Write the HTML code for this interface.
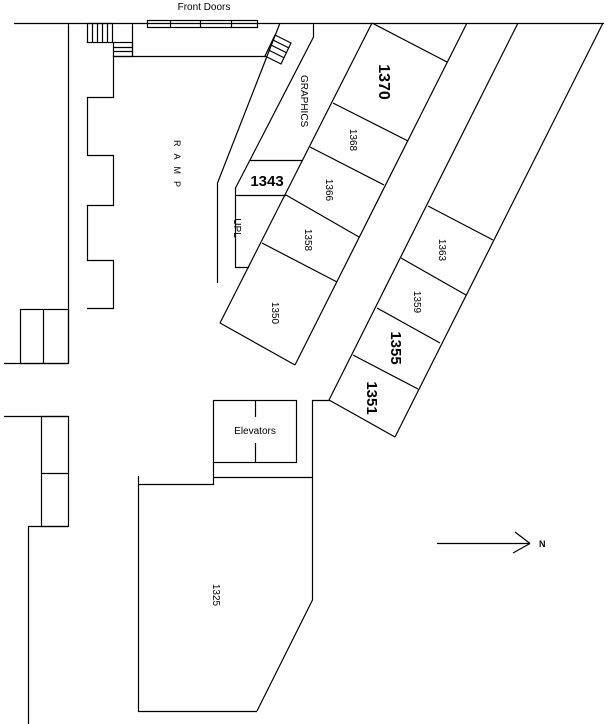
<!DOCTYPE html>
<html><head><meta charset="utf-8"><style>
html,body{margin:0;padding:0;background:#fff;}
svg{display:block;}
text{font-family:"Liberation Sans",sans-serif;fill:#000;}
</style></head><body>
<svg width="608" height="724" viewBox="0 0 608 724" xmlns="http://www.w3.org/2000/svg">
<g stroke="#000" stroke-width="1.2" fill="none">
<line x1="14" y1="23.5" x2="604" y2="23.5"/>
<rect x="147.5" y="20.5" width="110" height="7"/>
<line x1="170.5" y1="20" x2="170.5" y2="28"/>
<line x1="200.5" y1="20" x2="200.5" y2="28"/>
<line x1="231.5" y1="20" x2="231.5" y2="28"/>
<line x1="68.5" y1="23" x2="68.5" y2="363"/>
<rect x="87.5" y="23.5" width="25" height="19"/>
<line x1="92.5" y1="23" x2="92.5" y2="42"/>
<line x1="97.5" y1="23" x2="97.5" y2="42"/>
<line x1="102.5" y1="23" x2="102.5" y2="42"/>
<line x1="107.5" y1="23" x2="107.5" y2="42"/>
<rect x="113.5" y="42.5" width="19" height="14"/>
<line x1="113" y1="47.5" x2="132" y2="47.5"/>
<line x1="113" y1="51.5" x2="132" y2="51.5"/>
<line x1="132.5" y1="23" x2="132.5" y2="56"/>
<line x1="113" y1="56.5" x2="266" y2="56.5"/>
<polyline points="113.5,56 113.5,97.5 87.5,97.5 87.5,155.5 113.5,155.5 113.5,205.5 87.5,205.5 87.5,260.5 113.5,260.5 113.5,308.5 87,308.5"/>
<polygon points="265,56 275,35 291,43 281,64"/>
<line x1="268.5" y1="50" x2="284.5" y2="58"/>
<line x1="271" y1="45" x2="287" y2="53"/>
<line x1="273" y1="40" x2="289" y2="48"/>
<!-- inner ramp line -->
<polyline points="280,23 217.5,183 217.5,283"/>
<!-- graphics outer line -->
<polyline points="313.5,23 313.5,37 250,160 235.5,188 235.5,267.5 249,267.5"/>
<line x1="250" y1="160.5" x2="303" y2="160.5"/>
<line x1="235" y1="195.5" x2="286" y2="195.5"/>
<line x1="372" y1="23" x2="220" y2="323"/>
<line x1="467" y1="23" x2="295" y2="365"/>
<line x1="372" y1="23" x2="447" y2="62"/>
<line x1="333" y1="103" x2="408" y2="141"/>
<line x1="310" y1="147" x2="384" y2="185"/>
<line x1="286" y1="195" x2="359" y2="237"/>
<line x1="262" y1="243" x2="337" y2="282"/>
<line x1="220" y1="323" x2="295" y2="365"/>
<line x1="518" y1="23" x2="329" y2="400"/>
<line x1="603" y1="23" x2="395" y2="437"/>
<line x1="428" y1="206" x2="493" y2="240"/>
<line x1="401" y1="258" x2="466" y2="295"/>
<line x1="377" y1="308" x2="440" y2="343"/>
<line x1="353" y1="355" x2="418" y2="389"/>
<line x1="329" y1="400" x2="395" y2="437"/>
<line x1="4" y1="363.5" x2="68" y2="363.5"/>
<rect x="20.5" y="309.5" width="48" height="54"/>
<line x1="43.5" y1="309" x2="43.5" y2="363"/>
<line x1="4" y1="416.5" x2="68" y2="416.5"/>
<rect x="41.5" y="416.5" width="27" height="110"/>
<line x1="41" y1="473.5" x2="68" y2="473.5"/>
<polyline points="68,526.5 28.5,526.5 28.5,724"/>
<rect x="213.5" y="400.5" width="83" height="62"/>
<line x1="255.5" y1="400" x2="255.5" y2="417"/>
<line x1="255.5" y1="443" x2="255.5" y2="462"/>
<polyline points="213.5,462 213.5,484.5 138.5,484.5"/>
<line x1="213" y1="477.5" x2="312" y2="477.5"/>
<polyline points="330,400.5 312.5,400.5 312.5,600 257,711"/>
<polyline points="138.5,476 138.5,711.5 257,711.5"/>
<line x1="437" y1="543.5" x2="530" y2="543.5"/>
<line x1="515" y1="532" x2="530" y2="543.5"/>
<line x1="513" y1="553" x2="530" y2="543.5"/>
</g>
<text x="204" y="10" font-size="10" text-anchor="middle">Front Doors</text>
<text x="174" y="140" font-size="9" transform="rotate(90 174 140)" letter-spacing="7">RAMP</text>
<text x="301" y="75" font-size="10" transform="rotate(90 301 75)">GRAPHICS</text>
<text x="267" y="186" font-size="15" font-weight="bold" text-anchor="middle">1343</text>
<text x="237" y="228" font-size="10" transform="rotate(90 237 228)" text-anchor="middle" dy="3">UPL</text>
<text x="384" y="82" font-size="16" font-weight="bold" transform="rotate(90 384 82)" text-anchor="middle" dy="5">1370</text>
<text x="353" y="140" font-size="10" transform="rotate(90 353 140)" text-anchor="middle" dy="3">1368</text>
<text x="329" y="190" font-size="10" transform="rotate(90 329 190)" text-anchor="middle" dy="3">1366</text>
<text x="308" y="240" font-size="10" transform="rotate(90 308 240)" text-anchor="middle" dy="3">1358</text>
<text x="275" y="313" font-size="10" transform="rotate(90 275 313)" text-anchor="middle" dy="3">1350</text>
<text x="442" y="250" font-size="10" transform="rotate(90 442 250)" text-anchor="middle" dy="3">1363</text>
<text x="417" y="302" font-size="10" transform="rotate(90 417 302)" text-anchor="middle" dy="3">1359</text>
<text x="396" y="348" font-size="15" font-weight="bold" transform="rotate(90 396 348)" text-anchor="middle" dy="5">1355</text>
<text x="372" y="398" font-size="15" font-weight="bold" transform="rotate(90 372 398)" text-anchor="middle" dy="5">1351</text>
<text x="255" y="434" font-size="10" text-anchor="middle">Elevators</text>
<text x="216" y="595" font-size="10" transform="rotate(90 216 595)" text-anchor="middle" dy="3">1325</text>
<text x="539" y="547" font-size="9" font-weight="bold">N</text>
</svg>
</body></html>
